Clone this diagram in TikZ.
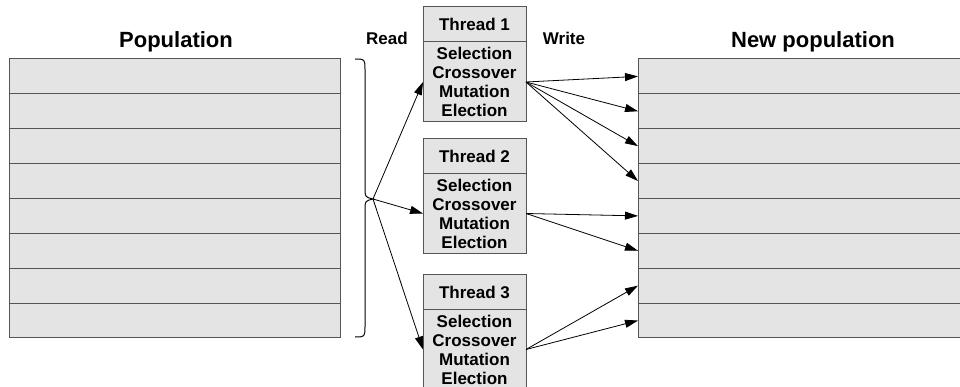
\documentclass[tikz,border=0pt]{standalone}
\usepackage{fontspec}
\setmainfont{Liberation Sans}
\usepackage{tikz}
\usetikzlibrary{positioning,shapes,arrows,arrows.meta}
\definecolor{cellfill}{HTML}{E4E4E4}
\definecolor{cellline}{HTML}{555555}
\tikzset{every picture/.style={line width=1pt}}

\begin{document}
\begin{tikzpicture}[x=1pt, y=-1pt,
    row/.style={draw=cellline, fill=cellfill, rectangle, inner sep=0pt, outer sep=0pt, minimum height=34.875pt},
    head/.style={draw=cellline, fill=cellfill, rectangle, inner sep=0pt, outer sep=0pt, minimum width=103pt, minimum height=35pt, font=\bfseries\fontsize{17}{19}\selectfont},
    ops/.style={head, minimum height=80pt, align=center},
    title/.style={anchor=base, font=\bfseries\fontsize{22}{26}\selectfont},
    label/.style={anchor=base, font=\bfseries\fontsize{17}{19}\selectfont},
    wr/.style={-{Triangle[length=13pt, width=8pt]}, line width=0.8pt}]
    \clip (0,0) rectangle (960,387);

    % Population
    \node[title] (poptitle) at (176,48) {Population};
    \node[row, minimum width=331pt] (pop1) at (174.5,76.4) {};
    \foreach \i [remember=\i as \j (initially 1)] in {2,...,8}
        \node[row, minimum width=331pt, below=0pt of pop\j] (pop\i) {};

    % New population
    \node[title] (newtitle) at (813,48) {New population};
    \node[row, minimum width=334pt] (np1) at (805,76.4) {};
    \foreach \i [remember=\i as \j (initially 1)] in {2,...,8}
        \node[row, minimum width=334pt, below=0pt of np\j] (np\i) {};

    % Read / Write
    \node[label] (read) at (387,45) {Read};
    \node[label] (write) at (564,45) {Write};

    % Threads
    \foreach \n/\y in {1/24.5, 2/156, 3/292} {
        \node[head] (head\n) at (474.5,\y) {Thread \n};
        \node[ops, below=0pt of head\n] (ops\n) {Selection\\Crossover\\Mutation\\Election};
    }

    % Brace over the population
    \coordinate (tip) at (373,199);
    \draw (355,59) .. controls (365,59) .. (365,70) -- (365,188)
        .. controls (365,197) .. (tip) .. controls (365,201) .. (365,210)
        -- (365,326) .. controls (365,337) .. (355,337);

    % Read arrows
    \foreach \n in {1,2,3}
        \draw[wr] (tip) -- (ops\n.west);

    % Write arrows
    \foreach \n/\r in {1/1, 1/2, 1/3, 1/4, 2/5, 2/6, 3/7, 3/8}
        \draw[wr] (ops\n.east) -- (np\r.west);
\end{tikzpicture}
\end{document}
